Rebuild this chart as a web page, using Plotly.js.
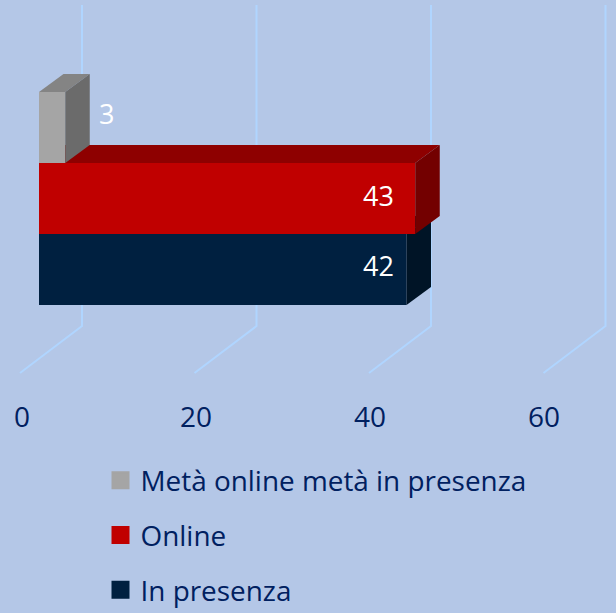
<!DOCTYPE html>
<html><head><meta charset="utf-8">
<script src="https://cdn.plot.ly/plotly-3.0.1.min.js"></script>
<style>html,body{margin:0;padding:0;background:#B4C7E7}</style></head>
<body><div id="chart" style="width:616px;height:613px"></div>
<script>
const categories = ["In presenza", "Online", "Metà online metà in presenza"];
const values = [42, 43, 3];
const tickValues = [0, 20, 40, 60];
const labelCenters = [38.8, 38.8, 7.7];
const labelYShift = [4, 3, 14];
const frontColors = ["#002040", "#C00000", "#A5A5A5"];
const topColors = ["#001A33", "#8E0000", "#848484"];
const sideColors = ["#001426", "#730000", "#6B6B6B"];
const gridColor = "#B0D5FF";
const textColor = "#002060";
const fontFamily = "'Open Sans', sans-serif";

// projection constants (data units)
const W = 616, H = 613, pxPerUnit = 8.75, bandPx = 71;
const x0Px = 39, y0Px = 269.5;
const depthX = 24.5 / pxPerUnit, depthY = 18 / bandPx;
const xRange = [-x0Px / pxPerUnit, (W - x0Px) / pxPerUnit];
const yRange = [(y0Px - H) / bandPx, y0Px / bandPx];

const traces = [];
categories.forEach((c, i) => {
  const v = values[i], lo = i - 0.5, hi = i + 0.5, z = i + 1;
  traces.push({type: "scatter", mode: "lines", fill: "toself", zorder: z, hoverinfo: "skip", showlegend: false,
    x: [0, depthX, v + depthX, v, 0], y: [hi, hi + depthY, hi + depthY, hi, hi],
    fillcolor: topColors[i], line: {width: 0}});
  traces.push({type: "scatter", mode: "lines", fill: "toself", zorder: z, hoverinfo: "skip", showlegend: false,
    x: [v, v + depthX, v + depthX, v, v], y: [hi, hi + depthY, lo + depthY, lo, hi],
    fillcolor: sideColors[i], line: {width: 0}});
  traces.push({type: "bar", orientation: "h", zorder: z, x: [v], y: [i], width: 1, base: 0, showlegend: false,
    name: c, marker: {color: frontColors[i], line: {width: 0}}});
});
[2, 1, 0].forEach(i => traces.push({type: "scatter", mode: "markers", x: [null], y: [null], name: categories[i],
  legendgroup: categories[i], showlegend: true,
  marker: {symbol: "square", size: 16, color: frontColors[i], line: {width: 2, color: frontColors[i]}}}));
// tick-label carrier on the secondary x axis
traces.push({type: "scatter", mode: "markers", x: tickValues, y: tickValues.map(() => -3), xaxis: "x2",
  marker: {opacity: 0}, showlegend: false, hoverinfo: "skip"});

const shapes = [];
const backX = 43 / pxPerUnit, frontX = -19 / pxPerUnit;
const floorBack = (y0Px - 326) / bandPx, floorFront = (y0Px - 373) / bandPx, wallTop = (y0Px - 5) / bandPx;
tickValues.forEach(t => {
  const bx = t * 174.5 / 20 / pxPerUnit + backX, fx = t * 174.5 / 20 / pxPerUnit + frontX;
  shapes.push({type: "path", layer: "below", xref: "x", yref: "y",
    path: `M${bx},${wallTop}L${bx},${floorBack}L${fx},${floorFront}`, line: {color: gridColor, width: 2}});
});

const annotations = categories.map((c, i) => ({x: labelCenters[i], y: i, yshift: labelYShift[i], text: String(values[i]),
  showarrow: false, xanchor: "center", yanchor: "middle", font: {family: fontFamily, size: 27, color: "#FFFFFF"}}));

Plotly.newPlot("chart", traces, {
  width: W, height: H, margin: {l: 0, r: 0, t: 0, b: 0},
  paper_bgcolor: "#B4C7E7", plot_bgcolor: "#B4C7E7",
  barmode: "overlay", shapes, annotations, hovermode: false,
  font: {family: fontFamily, color: textColor},
  xaxis: {range: xRange, visible: false, fixedrange: true},
  yaxis: {range: yRange, visible: false, fixedrange: true},
  xaxis2: {overlaying: "x", anchor: "free", position: (H - 398) / H, side: "bottom",
    range: [-22 / 8.7, (W - 22) / 8.7], tickvals: tickValues, showgrid: false, zeroline: false, showline: false,
    ticks: "", tickangle: 0, tickfont: {size: 28, color: textColor, family: fontFamily}, fixedrange: true},
  legend: {x: 100.5 / W, y: (H - 455.5) / H, xanchor: "left", yanchor: "top", bgcolor: "rgba(0,0,0,0)", maxheight: 155,
    font: {size: 27.9, color: textColor, family: fontFamily}, tracegroupgap: 15.5, itemclick: false}
}, {displayModeBar: false, staticPlot: true});
</script></body></html>
